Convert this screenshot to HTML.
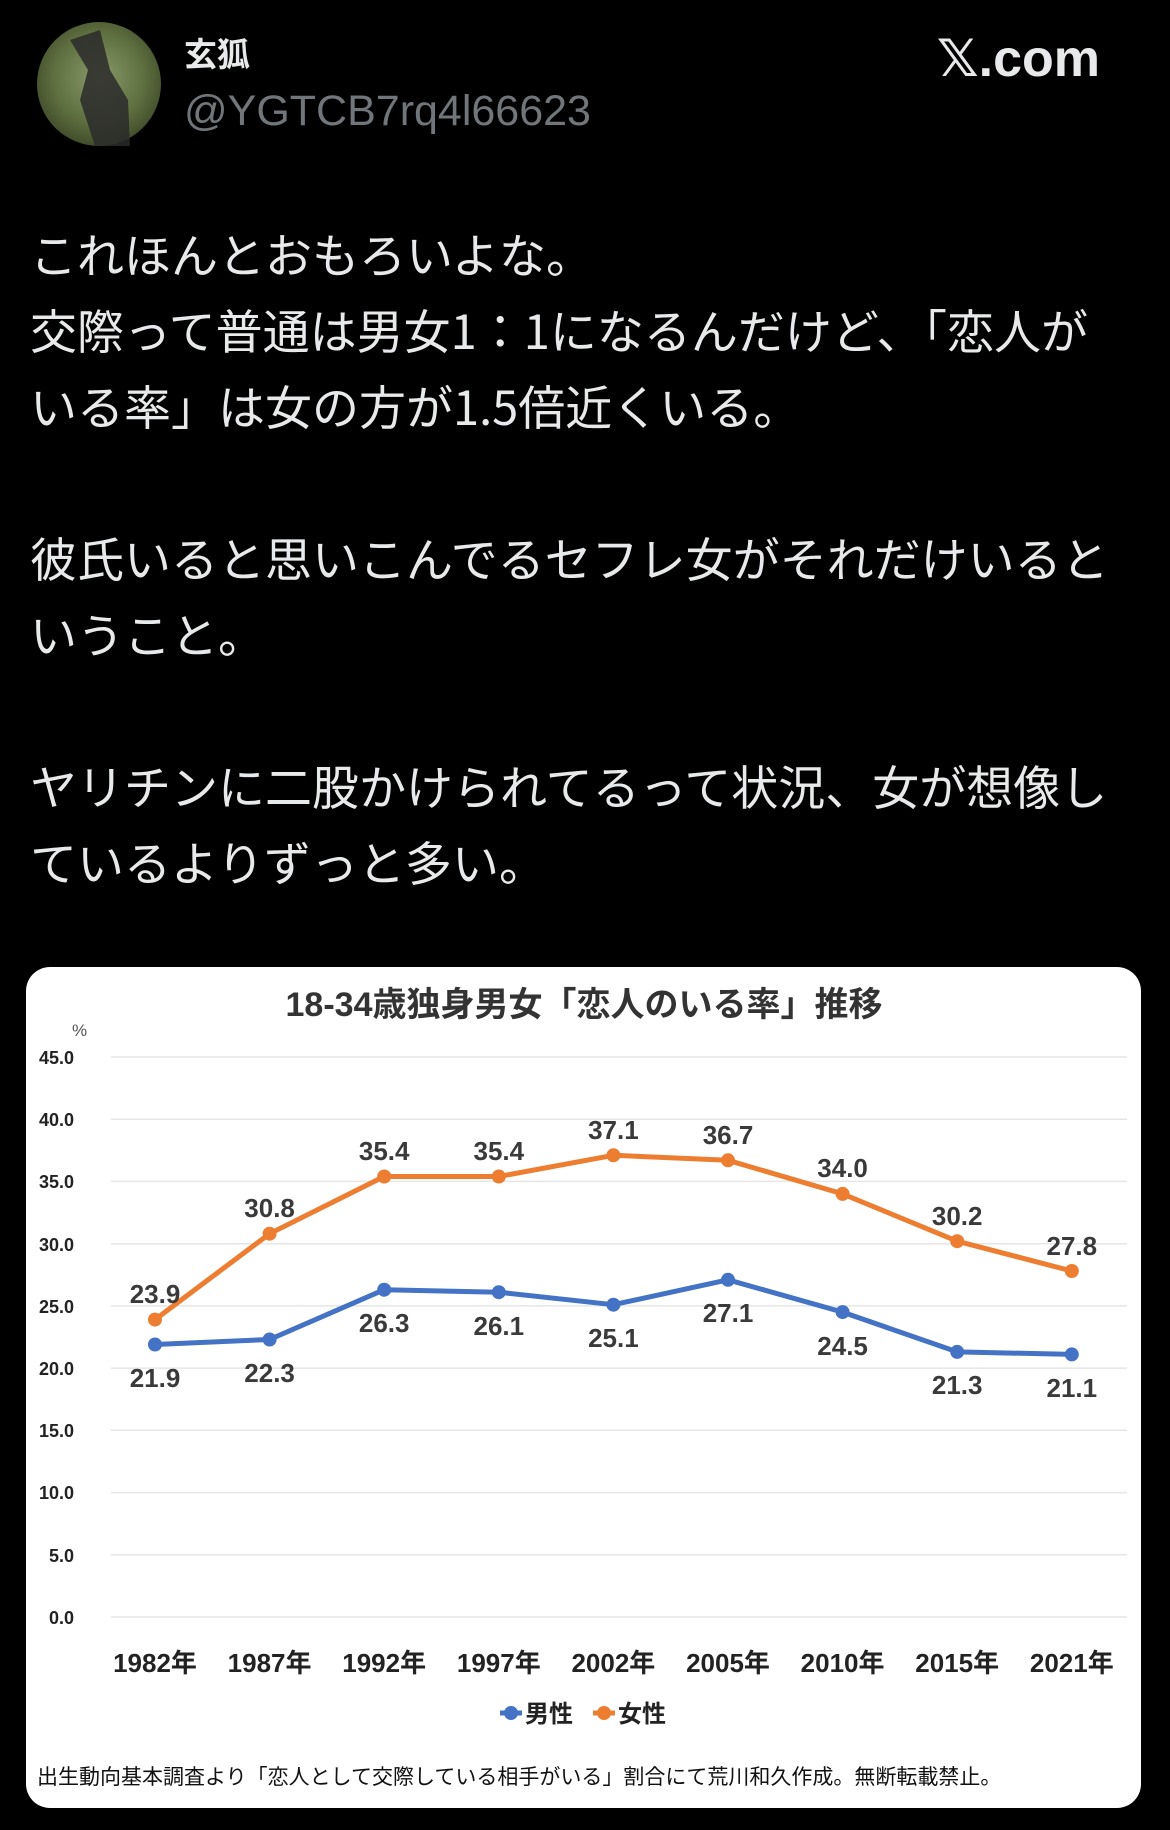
<!DOCTYPE html>
<html><head><meta charset="utf-8"><style>
html,body{margin:0;padding:0;background:#000;width:1170px;height:1830px;overflow:hidden;}
body{position:relative;font-family:"Liberation Sans","Noto Sans CJK JP",sans-serif;}
.t{position:absolute;left:30px;color:#e7e9ea;font-size:47px;line-height:76px;white-space:nowrap;font-family:"Noto Sans CJK JP",sans-serif;}
</style></head><body>
<svg width="1170" height="1830" style="position:absolute;left:0;top:0">
<defs>
<radialGradient id="av" cx="50%" cy="45%" r="60%">
<stop offset="0" stop-color="#8a9a6a"/><stop offset="0.6" stop-color="#5f7040"/><stop offset="1" stop-color="#3a4526"/>
</radialGradient>
</defs>
<circle cx="99" cy="84" r="62" fill="url(#av)"/>
<path d="M70 40 L88 70 L80 100 L95 146 L130 146 L128 100 L110 70 L100 30 Z" fill="#2a2a2a" opacity="0.85"/>
<text x="184" y="66" fill="#e7e9ea" font-size="33" font-weight="bold" font-family="Liberation Sans,Noto Sans CJK JP,sans-serif">玄狐</text>
<text x="184" y="125" fill="#71767b" font-size="43" font-family="Liberation Sans,sans-serif">@YGTCB7rq4l66623</text>
<text x="1100" y="76" fill="#e7e9ea" font-size="52" font-weight="bold" text-anchor="end" font-family="Liberation Sans,DejaVu Sans,sans-serif">𝕏.com</text>

<rect x="26" y="967" width="1115" height="841" rx="24" fill="#fff"/>
<text x="584" y="1016" font-size="34" font-weight="bold" fill="#333" text-anchor="middle" font-family="Liberation Sans,Noto Sans CJK JP,sans-serif">18-34歳独身男女「恋人のいる率」推移</text>
<text x="72" y="1036" font-size="17" fill="#555" font-family="Liberation Sans,sans-serif">%</text>
<g stroke="#e6e6e6" stroke-width="1.5">
<line x1="111" x2="1127" y1="1057" y2="1057"/><line x1="111" x2="1127" y1="1119.2" y2="1119.2"/>
<line x1="111" x2="1127" y1="1181.4" y2="1181.4"/><line x1="111" x2="1127" y1="1243.7" y2="1243.7"/>
<line x1="111" x2="1127" y1="1305.9" y2="1305.9"/><line x1="111" x2="1127" y1="1368.1" y2="1368.1"/>
<line x1="111" x2="1127" y1="1430.3" y2="1430.3"/><line x1="111" x2="1127" y1="1492.6" y2="1492.6"/>
<line x1="111" x2="1127" y1="1554.8" y2="1554.8"/><line x1="111" x2="1127" y1="1617" y2="1617"/>
</g>
<g font-size="18" font-weight="bold" fill="#222" font-family="Liberation Sans,sans-serif" text-anchor="end">
<text x="74" y="1064">45.0</text><text x="74" y="1126">40.0</text><text x="74" y="1188">35.0</text>
<text x="74" y="1251">30.0</text><text x="74" y="1313">25.0</text><text x="74" y="1375">20.0</text>
<text x="74" y="1437">15.0</text><text x="74" y="1499">10.0</text><text x="74" y="1562">5.0</text>
<text x="74" y="1624">0.0</text>
</g>
<polyline fill="none" stroke="#ED7D31" stroke-width="5" stroke-linejoin="round" points="155,1319.6 269.6,1233.7 384.2,1176.5 498.8,1176.5 613.4,1155.3 728,1160.3 842.6,1193.9 957.2,1241.2 1071.8,1271"/>
<polyline fill="none" stroke="#4472C4" stroke-width="5" stroke-linejoin="round" points="155,1344.5 269.6,1339.5 384.2,1289.7 498.8,1292.2 613.4,1304.7 728,1279.8 842.6,1312.1 957.2,1351.9 1071.8,1354.4"/>
<g fill="#ED7D31">
<circle cx="155" cy="1319.6" r="7"/><circle cx="269.6" cy="1233.7" r="7"/><circle cx="384.2" cy="1176.5" r="7"/>
<circle cx="498.8" cy="1176.5" r="7"/><circle cx="613.4" cy="1155.3" r="7"/><circle cx="728" cy="1160.3" r="7"/>
<circle cx="842.6" cy="1193.9" r="7"/><circle cx="957.2" cy="1241.2" r="7"/><circle cx="1071.8" cy="1271" r="7"/>
</g>
<g fill="#4472C4">
<circle cx="155" cy="1344.5" r="7"/><circle cx="269.6" cy="1339.5" r="7"/><circle cx="384.2" cy="1289.7" r="7"/>
<circle cx="498.8" cy="1292.2" r="7"/><circle cx="613.4" cy="1304.7" r="7"/><circle cx="728" cy="1279.8" r="7"/>
<circle cx="842.6" cy="1312.1" r="7"/><circle cx="957.2" cy="1351.9" r="7"/><circle cx="1071.8" cy="1354.4" r="7"/>
</g>
<g font-size="26" font-weight="bold" fill="#3a3a3a" text-anchor="middle" font-family="Liberation Sans,sans-serif">
<text x="155" y="1303">23.9</text><text x="269.6" y="1217">30.8</text><text x="384.2" y="1160">35.4</text>
<text x="498.8" y="1160">35.4</text><text x="613.4" y="1139">37.1</text><text x="728" y="1144">36.7</text>
<text x="842.6" y="1177">34.0</text><text x="957.2" y="1225">30.2</text><text x="1071.8" y="1255">27.8</text>
<text x="155" y="1387">21.9</text><text x="269.6" y="1382">22.3</text><text x="384.2" y="1332">26.3</text>
<text x="498.8" y="1335">26.1</text><text x="613.4" y="1347">25.1</text><text x="728" y="1322">27.1</text>
<text x="842.6" y="1355">24.5</text><text x="957.2" y="1394">21.3</text><text x="1071.8" y="1397">21.1</text>
</g>
<g font-size="26" font-weight="bold" fill="#222" text-anchor="middle" font-family="Liberation Sans,Noto Sans CJK JP,sans-serif">
<text x="155" y="1672">1982年</text><text x="269.6" y="1672">1987年</text><text x="384.2" y="1672">1992年</text>
<text x="498.8" y="1672">1997年</text><text x="613.4" y="1672">2002年</text><text x="728" y="1672">2005年</text>
<text x="842.6" y="1672">2010年</text><text x="957.2" y="1672">2015年</text><text x="1071.8" y="1672">2021年</text>
</g>
<line x1="500" x2="522" y1="1713" y2="1713" stroke="#4472C4" stroke-width="5"/><circle cx="511" cy="1713" r="7" fill="#4472C4"/>
<text x="525" y="1722" font-size="24" font-weight="bold" fill="#222" font-family="Liberation Sans,Noto Sans CJK JP,sans-serif">男性</text>
<line x1="593" x2="615" y1="1713" y2="1713" stroke="#ED7D31" stroke-width="5"/><circle cx="604" cy="1713" r="7" fill="#ED7D31"/>
<text x="618" y="1722" font-size="24" font-weight="bold" fill="#222" font-family="Liberation Sans,Noto Sans CJK JP,sans-serif">女性</text>
<text x="37" y="1784" font-size="21" fill="#111" font-family="Noto Sans CJK JP,sans-serif">出生動向基本調査より「恋人として交際している相手がいる」割合にて荒川和久作成。無断転載禁止。</text>
</svg>
<div class="t" style="top:215px">これほんとおもろいよな。</div>
<div class="t" style="top:291px">交際って普通は男女1：1になるんだけど、「恋人が</div>
<div class="t" style="top:367px">いる率」は女の方が1.5倍近くいる。</div>
<div class="t" style="top:519px">彼氏いると思いこんでるセフレ女がそれだけいると</div>
<div class="t" style="top:595px">いうこと。</div>
<div class="t" style="top:747px">ヤリチンに二股かけられてるって状況、女が想像し</div>
<div class="t" style="top:823px">ているよりずっと多い。</div>
</body></html>
